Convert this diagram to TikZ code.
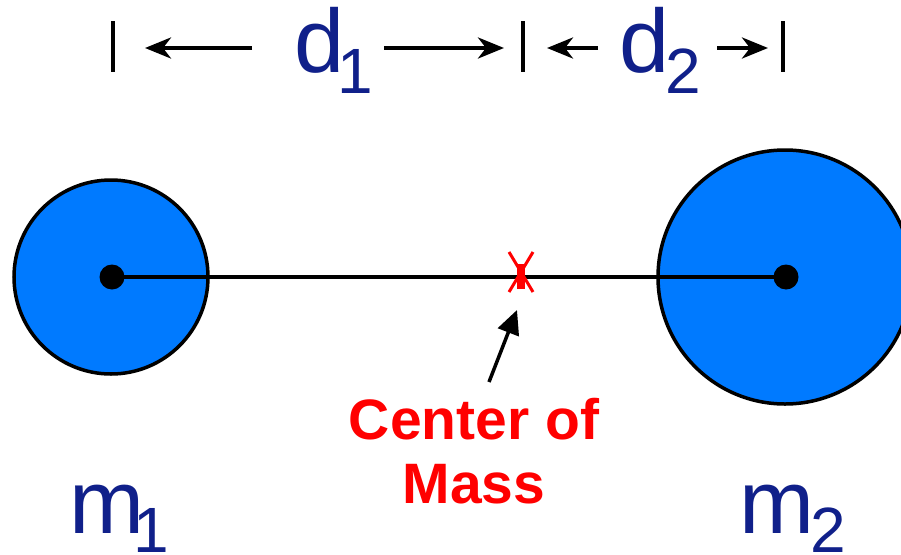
\documentclass[tikz,border=0pt]{standalone}
\usepackage{fontspec}
\setmainfont{Liberation Sans}
\usetikzlibrary{arrows.meta}
\definecolor{ballblue}{RGB}{0,122,255}
\definecolor{navy}{RGB}{16,32,138}
\definecolor{comred}{RGB}{255,0,0}
\begin{document}
\begin{tikzpicture}[x=1pt,y=-1pt,
  mass/.style={circle, draw=black, line width=3.5pt, fill=ballblue, inner sep=0pt},
  dotnode/.style={circle, fill=black, inner sep=0pt, minimum size=25pt},
  lbl/.style={text=navy, inner sep=0pt, anchor=base, font=\fontsize{90}{90}\selectfont},
  sublbl/.style={text=navy, inner sep=0pt, anchor=base, font=\fontsize{64}{64}\selectfont},
  barline/.style={line width=4pt},
  dimarrow/.style={line width=4pt, -{Stealth[length=26pt,width=21pt,inset=8pt]}},
  pointer/.style={line width=3.5pt, -{Triangle[length=24pt,width=22pt]}},
  xmark/.style={comred, line width=3pt},
]
\useasboundingbox (0,0) rectangle (901,554);
\clip (0,0) rectangle (901,554);
\fill[white] (0,0) rectangle (901,554);

% masses
\node[mass, minimum size=194pt] (ball1) at (111,277) {};
\node[mass, minimum size=254pt] (ball2) at (785,277) {};
\node[dotnode] (c1) at (112,277) {};
\node[dotnode] (c2) at (786,277) {};
\draw[line width=4pt] (c1.center) -- (c2.center);

% center of mass mark
\coordinate (com) at (521,272);
\draw[xmark] ([shift={(-12,-20)}]com) -- ([shift={(12,20)}]com)
             ([shift={(12,-20)}]com) -- ([shift={(-12,20)}]com);
\fill[comred] ([shift={(-4,-8)}]com) rectangle ([shift={(4,17)}]com);

% pointer and label
\node[text=comred, align=center, anchor=base, inner sep=0pt,
      font=\fontsize{57}{64}\selectfont\bfseries] (comlbl) at (474,503) {Center of\\Mass};
\coordinate (ptail) at (489,382);
\coordinate (phead) at (517,310);
\draw[pointer] (ptail) -- (phead);

% dimension bars
\coordinate (b1t) at (113,21); \coordinate (b1b) at (113,72);
\coordinate (b2t) at (523,21); \coordinate (b2b) at (523,72);
\coordinate (b3t) at (783,21); \coordinate (b3b) at (783,72);
\draw[barline] (b1t) -- (b1b);
\draw[barline] (b2t) -- (b2b);
\draw[barline] (b3t) -- (b3b);

% dimension labels
\node[lbl] (d1) at (320,72) {d};
\node[sublbl, anchor=base west] (d1s) at (337,93) {1};
\node[lbl] (d2) at (645,72) {d};
\node[sublbl] (d2s) at (683,93) {2};

% dimension arrows
\coordinate (a1s) at (252,48); \coordinate (a1e) at (145,48);
\coordinate (a2s) at (384,48); \coordinate (a2e) at (504,48);
\coordinate (a3s) at (598,48); \coordinate (a3e) at (547,48);
\coordinate (a4s) at (717,48); \coordinate (a4e) at (768,48);
\draw[dimarrow] (a1s) -- (a1e);
\draw[dimarrow] (a2s) -- (a2e);
\draw[dimarrow] (a3s) -- (a3e);
\draw[dimarrow] (a4s) -- (a4e);

% mass labels
\node[lbl] (m1) at (107,533) {m};
\node[sublbl, anchor=base west] (m1s) at (133,552) {1};
\node[lbl] (m2) at (777,533) {m};
\node[sublbl] (m2s) at (828,552) {2};
\end{tikzpicture}
\end{document}
